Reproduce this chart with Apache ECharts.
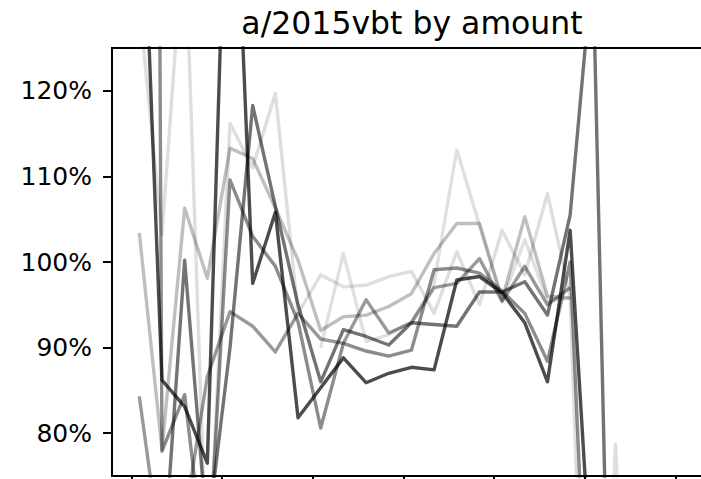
<!DOCTYPE html>
<html>
<head>
<meta charset="utf-8">
<script src="https://cdn.jsdelivr.net/npm/echarts@6/dist/echarts.min.js"></script>
<style>
  html, body { margin: 0; padding: 0; background: #fff; }
  #chart { width: 701px; height: 479px; }
</style>
</head>
<body>
<div id="chart"></div>
<script>
// ---- data (values in %, one entry per quarter; null = no observation) ----
const titleText = 'a/2015vbt by amount';
const yTicks = [80, 90, 100, 110, 120];
const xTicks = [0, 4, 8, 12, 16, 20, 24];
const firstPeriod = 0.353;   // first observation, in tick units (ticks every 4 quarters)

const seriesA = [155, 86.2, 83.1, 76.5, 162, 97.5, 105.8, 81.8, 85.3, 88.8, 85.9, 87.0, 87.7, 87.4, 97.9, 98.3, 96.4, 92.9, 86.0, 103.7, 60, null, null];
const seriesB = [null, 62, 100.2, 68, 90, 118.3, 106.5, 95.0, 86.0, 92.1, 91.3, 90.3, 92.9, 92.7, 92.5, 96.5, 96.5, 97.7, 93.8, 105.5, 135, 20, null];
const seriesC = [103.4, 78.1, 106.3, 98.1, 113.3, 112.1, 106.3, 100.2, 92.0, 93.6, 93.8, 94.8, 96.3, 101.0, 104.5, 104.5, 95.6, 105.3, 96.0, 95.8, null, null, null];
const seriesD = [84.3, 65, 70, 86.6, 94.2, 92.5, 89.5, 94.0, 91.0, 90.5, 95.6, 91.7, 92.9, 97.0, 97.5, 100.4, 95.4, 99.5, 95.0, 97.0, null, null, null];
const seriesE = [130, 103.2, 140, 61, 116.2, 111, 119.7, 94, 98.5, 97.1, 97.3, 98.3, 98.9, 94.0, 101.2, 95.0, 103.7, 98.5, 108.0, 96.0, 20, 78.7, 20];
const seriesF = [600, 77.9, 84.5, 62, 109.6, 103.0, 99.5, 93.0, 80.6, 90.5, 89.6, 89.0, 89.7, 99.1, 99.3, 98.7, 96.6, 94.0, 88.4, 100, 40, null, null];
const seriesG = [null, null, null, null, null, null, null, null, 90, 101.0, 90.7, 91.5, 93.0, 97.5, 113.1, 104.3, 95.5, 102.6, 95.5, 95.8, null, null, null];

const seriesList = [seriesA, seriesB, seriesC, seriesD, seriesE, seriesF, seriesG];
const seriesAlpha = [0.7, 0.55, 0.25, 0.4, 0.13, 0.45, 0.12];

const FONT = '"DejaVu Sans", sans-serif';

const chart = echarts.init(document.getElementById('chart'), null, { renderer: 'svg' });

const series = seriesList.map((vals, k) => ({
  type: 'line',
  data: vals.map((v, i) => [firstPeriod + i, v]),
  symbol: 'none',
  clip: true,
  connectNulls: false,
  silent: true,
  animation: false,
  lineStyle: { color: 'rgba(0,0,0,' + seriesAlpha[k] + ')', width: 3.4, join: 'round', cap: 'butt' }
}));

chart.setOption({
  animation: false,
  backgroundColor: '#ffffff',
  graphic: [{
    type: 'text',
    x: 412, y: 23,
    style: {
      text: titleText,
      font: '31.5px ' + FONT,
      fill: '#000',
      textAlign: 'center',
      textVerticalAlign: 'middle'
    }
  }],
  grid: {
    left: 112, right: -9, top: 48, bottom: 3,
    containLabel: false,
    outerBoundsMode: 'none',
    show: true,
    borderColor: '#000',
    borderWidth: 2,
    backgroundColor: 'transparent'
  },
  xAxis: {
    type: 'value',
    min: -0.851,
    max: 25.52,
    axisLine: { show: true, onZero: false, lineStyle: { color: '#000', width: 2 } },
    axisTick: { show: true, customValues: xTicks, length: 9, lineStyle: { color: '#000', width: 2 } },
    axisLabel: { show: false },
    splitLine: { show: false }
  },
  yAxis: {
    type: 'value',
    min: 75,
    max: 125,
    axisLine: { show: true, onZero: false, lineStyle: { color: '#000', width: 2 } },
    axisTick: { show: true, customValues: yTicks, length: 9, lineStyle: { color: '#000', width: 2 } },
    axisLabel: {
      show: true,
      customValues: yTicks,
      formatter: '{value}%',
      color: '#000',
      fontFamily: FONT,
      fontSize: 25,
      margin: 20
    },
    splitLine: { show: false }
  },
  series: series
});
</script>
</body>
</html>
